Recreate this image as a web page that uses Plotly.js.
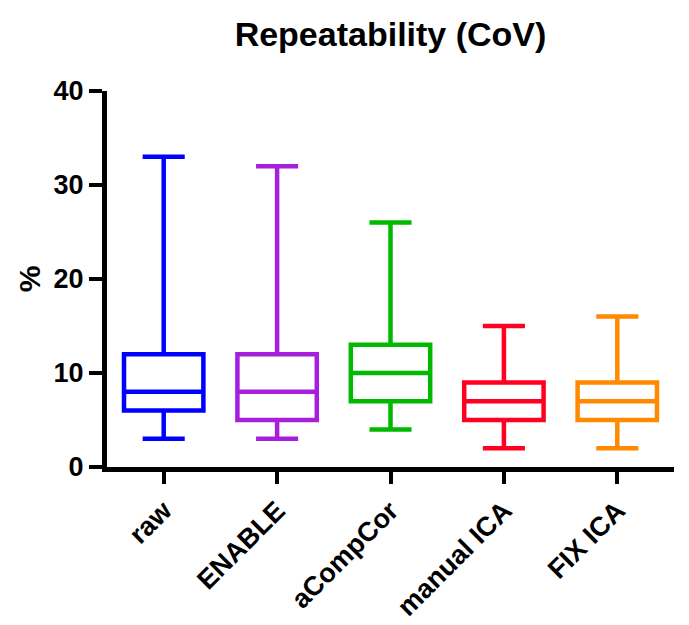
<!DOCTYPE html>
<html>
<head>
<meta charset="utf-8">
<script src="https://cdn.plot.ly/plotly-3.0.1.min.js"></script>
<style>
  html, body { margin: 0; padding: 0; background: #fff; }
  #plot { width: 689px; height: 625px; }
</style>
</head>
<body>
<div id="plot"></div>
<script>
// box summaries (min / q1 / median / q3 / max, in %)
const categories = ['raw', 'ENABLE', 'aCompCor', 'manual ICA', 'FIX ICA'];
const mins    = [3, 3, 4, 2, 2];
const q1s     = [6, 5, 7, 5, 5];
const medians = [8, 8, 10, 7, 7];
const q3s     = [12, 12, 13, 9, 9];
const maxs    = [33, 32, 26, 15, 16];

const palette = ['#0000ff', '#a61fdc', '#00b900', '#ff0022', '#ff8a00'];

const font = 'Liberation Sans, Arial, Helvetica, sans-serif';

const plotData = categories.map((cat, i) => ({
    type: 'box',
    x: [cat],
    q1: [q1s[i]],
    median: [medians[i]],
    q3: [q3s[i]],
    lowerfence: [mins[i]],
    upperfence: [maxs[i]],
    width: 0.7,
    whiskerwidth: 0.53,
    fillcolor: 'rgba(0,0,0,0)',
    line: {color: palette[i], width: 4.5},
    boxpoints: false,
    hoverinfo: 'skip',
    name: cat
}));

const layout = {
    width: 689,
    height: 625,
    margin: {l: 107, r: 15, t: 91, b: 158},
    paper_bgcolor: '#fff',
    plot_bgcolor: '#fff',
    showlegend: false,
    boxmode: 'overlay',
    font: {family: font, color: '#000'},
    title: {
        text: 'Repeatability (CoV)',
        font: {family: font, size: 34, weight: 'bold', color: '#000'},
        x: 0.5, xref: 'paper',
        y: 1 - 34 / 625, yref: 'container', yanchor: 'middle'
    },
    xaxis: {
        type: 'category',
        categoryorder: 'array',
        categoryarray: categories,
        range: [-0.5, 4.5],
        showline: true, linecolor: '#000', linewidth: 5,
        ticks: 'outside', ticklen: 12, tickwidth: 4, tickcolor: '#000',
        tickangle: -45,
        tickfont: {family: font, size: 27, weight: 'bold'},
        showgrid: false, zeroline: false,
        fixedrange: true
    },
    yaxis: {
        range: [0, 40],
        dtick: 10,
        showline: true, linecolor: '#000', linewidth: 5,
        ticks: 'outside', ticklen: 13, tickwidth: 4, tickcolor: '#000',
        tickfont: {family: font, size: 27, weight: 'bold'},
        title: {text: '%', font: {family: font, size: 30, weight: 'bold'}, standoff: 6},
        showgrid: false, zeroline: false,
        fixedrange: true
    }
};

Plotly.newPlot('plot', plotData, layout, {displayModeBar: false, staticPlot: true});
</script>
</body>
</html>
